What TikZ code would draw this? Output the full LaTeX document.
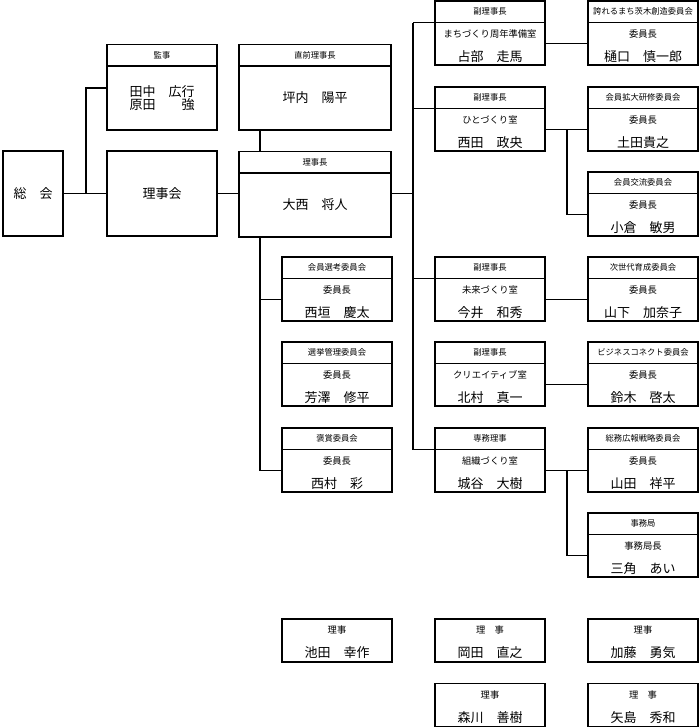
\documentclass[tikz,border=0pt]{standalone}
\usepackage{fontspec}
\setmainfont{Noto Sans CJK JP}
\usetikzlibrary{positioning}

\newcommand{\hdsize}{\fontsize{8.3}{10}\selectfont}
\newcommand{\subsize}{\fontsize{9.3}{22}\selectfont\rule{0pt}{12pt}}
\newcommand{\nmsize}{\fontsize{13}{22}\selectfont}

\begin{document}
\begin{tikzpicture}[x=1pt, y=-1pt,
    box/.style={draw, line width=1.1pt, outer sep=0pt, inner sep=0pt, align=center, minimum width=110pt},
    hd/.style={box, minimum height=21.5pt, font=\hdsize},
    bd/.style={box, minimum height=42.5pt, font=\nmsize},
    line/.style={line width=1.1pt}]

        \useasboundingbox (0,0) rectangle (700,728);

        % Draw the general meeting and the board
        \node[box, minimum width=60pt, minimum height=85pt, font=\nmsize] (soukai) at (33,193.5) {総　会};
        \node[box, minimum height=85pt, font=\nmsize] (rijikai) at (162,193.5) {理事会};

        % Draw the auditors
        \node[hd, anchor=north] (kanjih) at (162,44.5) {監事};
        \node[bd, below=0pt of kanjih, minimum height=64pt, font=\fontsize{13}{13.5}\selectfont] (kanji) {田中　広行\\原田　　強};

        % Draw the past president and the president
        \node[hd, anchor=north, minimum width=152pt] (zenh) at (315,44.5) {直前理事長};
        \node[bd, below=0pt of zenh, minimum width=152pt, minimum height=64pt] (zen) {坪内　陽平};
        \node[hd, anchor=north, minimum width=152pt] (rjch) at (315,151.5) {理事長};
        \node[bd, below=0pt of rjch, minimum width=152pt, minimum height=64pt] (rjc) {大西　将人};

        % Draw the committees under the president
        \foreach \n/\y/\post/\dept/\who in {1/257/会員選考委員会/委員長/西垣　慶太,
                2/342/選挙管理委員会/委員長/芳澤　修平,
                3/428/褒賞委員会/委員長/西村　彩} {
            \node[hd, anchor=north] (Lh\n) at (337,\y) {\post};
            \node[bd, below=0pt of Lh\n] (L\n) {{\subsize\dept}\\[2pt]\who};
        }

        % Draw the vice presidents
        \foreach \n/\y/\post/\dept/\who in {1/1/副理事長/まちづくり周年準備室/占部　走馬,
                2/87/副理事長/ひとづくり室/西田　政央,
                3/257/副理事長/未来づくり室/今井　和秀,
                4/342/副理事長/クリエイティブ室/北村　真一,
                5/428/専務理事/組織づくり室/城谷　大樹} {
            \node[hd, anchor=north] (Mh\n) at (490,\y) {\post};
            \node[bd, below=0pt of Mh\n] (M\n) {{\subsize\dept}\\[2pt]\who};
        }

        % Draw the committees under the vice presidents
        \foreach \n/\y/\post/\dept/\who in {1/1/誇れるまち茨木創造委員会/委員長/樋口　慎一郎,
                2/87/会員拡大研修委員会/委員長/土田貴之,
                3/172/会員交流委員会/委員長/小倉　敏男,
                4/257/次世代育成委員会/委員長/山下　加奈子,
                5/342/ビジネスコネクト委員会/委員長/鈴木　啓太,
                6/428/総務広報戦略委員会/委員長/山田　祥平,
                7/513/事務局/事務局長/三角　あい} {
            \node[hd, anchor=north] (Rh\n) at (643,\y) {\post};
            \node[bd, below=0pt of Rh\n] (R\n) {{\subsize\dept}\\[2pt]\who};
        }

        % Draw the directors
        \foreach \n/\x/\y/\post/\who in {1/337/640.5/理事/池田　幸作,
                2/490/640.5/理　事/岡田　直之,
                3/643/640.5/理事/加藤　勇気,
                4/490/705/理事/森川　善樹,
                5/643/705/理　事/矢島　秀和} {
            \node[box, minimum height=43pt, font=\nmsize] (B\n) at (\x,\y) {{\subsize\post}\\[2pt]\who};
        }

        % Draw the connectors
        \coordinate (ja) at (86,193.5);
        \coordinate (tl) at (260,0);
        \coordinate (tm) at (413,193.5);
        \coordinate (tr) at (567,0);

        \draw[line] (soukai.east) -- (rijikai.west);
        \draw[line] (ja) |- ([yshift=10pt]kanji.west);
        \draw[line] (rijikai.east) -- (rijikai.east -| rjc.west);
        \draw[line] (zen.south -| tl) -- (rjch.north -| tl);
        \draw[line] (rjc.east |- tm) -- (tm);

        \draw[line] (rjc.south -| tl) |- (L3.west);
        \draw[line] (tl |- L1.west) -- (L1.west);

        \draw[line] (tm |- Mh1.south) -- (tm |- Mh5.south);
        \foreach \n in {1, 2, 3, 5}
            \draw[line] (tm |- Mh\n.south) -- (Mh\n.south west);

        \foreach \a/\b in {1/1, 2/2, 3/4, 4/5, 5/6}
            \draw[line] (M\a.east) -- (R\b.west);
        \draw[line] (tr |- M2.east) |- (R3.west);
        \draw[line] (tr |- M5.east) |- (R7.west);

\end{tikzpicture}
\end{document}
